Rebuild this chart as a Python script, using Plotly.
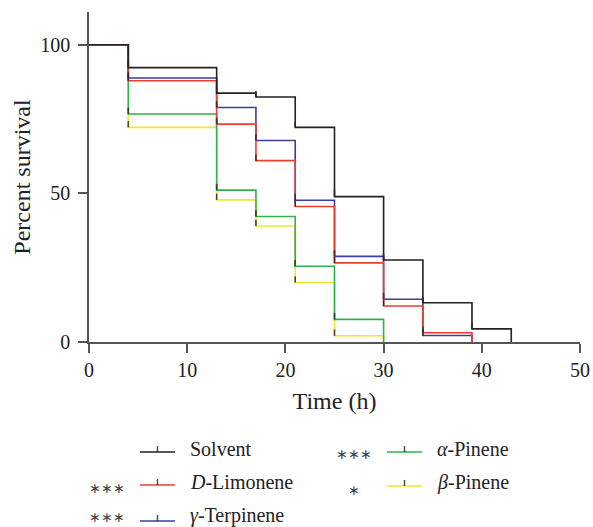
import plotly.graph_objects as go

# ---- data ----
solvent_t = [0, 4, 13, 17, 21, 25, 30, 34, 39, 43]
solvent_s = [100, 92.3, 83.7, 82.4, 72.2, 48.9, 27.6, 13.2, 4.4, 0]
limonene_t = [0, 4, 13, 17, 21, 25, 30, 34, 39]
limonene_s = [100, 87.9, 73.3, 61.0, 45.6, 26.6, 12.1, 3.1, 0]
terpinene_t = [0, 4, 13, 17, 21, 25, 30, 34, 39]
terpinene_s = [100, 88.8, 78.9, 67.8, 47.7, 28.8, 14.4, 2.2, 0]
apinene_t = [0, 4, 13, 17, 21, 25, 30]
apinene_s = [100, 76.7, 51.1, 42.2, 25.5, 7.6, 0]
bpinene_t = [0, 4, 13, 17, 21, 25, 30]
bpinene_s = [100, 72.2, 47.8, 39.0, 20.0, 2.1, 0]

names = ["Solvent", "<i>D</i>-Limonene", "<i>γ</i>-Terpinene", "<i>α</i>-Pinene", "<i>β</i>-Pinene"]
signif = ["", "∗∗∗", "∗∗∗", "∗∗∗", "∗"]
colors = ["#222222", "#e8402a", "#3d3d9e", "#2eb34a", "#f5e62a"]
x_ticks = [0, 10, 20, 30, 40, 50]
y_ticks = [0, 50, 100]

series = [
    (solvent_t, solvent_s),
    (limonene_t, limonene_s),
    (terpinene_t, terpinene_s),
    (apinene_t, apinene_s),
    (bpinene_t, bpinene_s),
]

FONT = "Liberation Serif, Times New Roman, serif"
W, H = 593, 527
L, R, T, B = 89, 13, 12, 185
PW, PH = W - L - R, H - T - B

def px(x):
    return (x - L) / PW

def py(y):
    return (H - B - y) / PH

fig = go.Figure()

draw_order = [4, 3, 2, 1, 0]
for i in draw_order:
    t, s = series[i]
    fig.add_trace(go.Scatter(x=t, y=s, mode="lines", line=dict(color=colors[i], width=1.6, shape="hv"),
                             showlegend=False, hoverinfo="skip"))
# censor-style tick marks at each drop
for i in draw_order:
    t, s = series[i]
    xs, ys = [], []
    for tt, ss in zip(t[1:], s[1:]):
        if ss > 0:
            xs += [tt, tt, None]
            ys += [ss, ss + 2.1, None]
    fig.add_trace(go.Scatter(x=xs, y=ys, mode="lines", line=dict(color="rgba(40,40,40,0.85)", width=1.6),
                             showlegend=False, hoverinfo="skip"))

# ---- manual legend ----
legend_pos = [
    (140, 175, 452, 188, 449, 107, 455),
    (140, 175, 485, 188, 482, 107, 489),
    (140, 175, 521, 188, 515, 107, 517),
    (387, 422, 452, 435, 449, 354, 455),
    (387, 422, 486, 435, 482, 354, 490),
]
shapes = []
annotations = []
for i, (x0, x1, ly, tx, ty, ax, ay) in enumerate(legend_pos):
    shapes.append(dict(type="line", xref="paper", yref="paper", x0=px(x0), x1=px(x1), y0=py(ly), y1=py(ly),
                       line=dict(color=colors[i], width=1.6)))
    xm = (x0 + x1) / 2
    shapes.append(dict(type="line", xref="paper", yref="paper", x0=px(xm), x1=px(xm), y0=py(ly), y1=py(ly - 6),
                       line=dict(color="rgba(40,40,40,0.85)", width=1.4)))
    annotations.append(dict(xref="paper", yref="paper", x=px(tx), y=py(ty), text=names[i], showarrow=False,
                            xanchor="left", yanchor="middle", font=dict(family=FONT, size=20, color="#222")))
    if signif[i]:
        annotations.append(dict(xref="paper", yref="paper", x=px(ax), y=py(ay), text=signif[i], showarrow=False,
                                xanchor="center", yanchor="middle", font=dict(family=FONT, size=14, color="#444")))

fig.update_layout(
    width=W, height=H,
    margin=dict(l=L, r=R, t=T, b=B, autoexpand=False),
    paper_bgcolor="white", plot_bgcolor="white",
    font=dict(family=FONT, size=20, color="#222"),
    shapes=shapes, annotations=annotations,
    showlegend=False,
)
fig.update_xaxes(range=[0, 50], tickvals=x_ticks, ticks="outside", ticklen=9, tickwidth=1.5, tickcolor="#555",
                 showline=True, linecolor="#555", linewidth=1.5, showgrid=False, zeroline=False, automargin=False,
                 title=dict(text="Time (h)", standoff=12), tickfont=dict(size=20))
fig.update_yaxes(range=[0, 111], tickvals=y_ticks, ticks="outside", ticklen=9, tickwidth=1.5, tickcolor="#555",
                 showline=True, linecolor="#555", linewidth=1.5, showgrid=False, zeroline=False, automargin=False,
                 ticklabelstandoff=4,
                 title=dict(text="Percent survival", standoff=3), tickfont=dict(size=20))

fig.write_html("out.html")
